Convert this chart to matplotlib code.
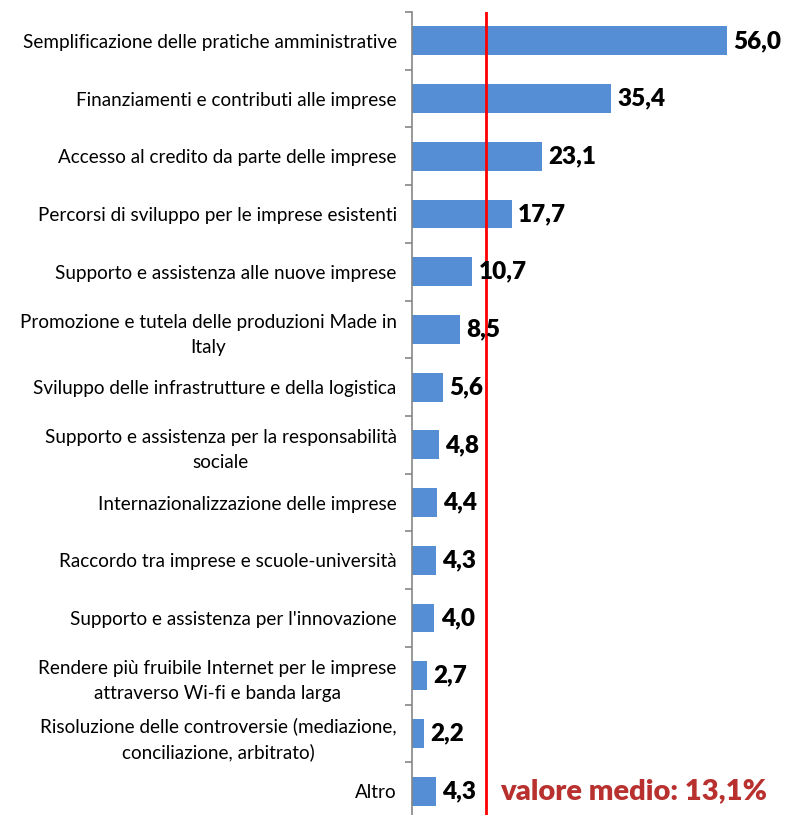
import matplotlib
matplotlib.use("Agg")
import matplotlib.pyplot as plt
import numpy as np

categories = [
    "Semplificazione delle pratiche amministrative",
    "Finanziamenti e contributi alle imprese",
    "Accesso al credito da parte delle imprese",
    "Percorsi di sviluppo per le imprese esistenti",
    "Supporto e assistenza alle nuove imprese",
    "Promozione e tutela delle produzioni Made in\nItaly",
    "Sviluppo delle infrastrutture e della logistica",
    "Supporto e assistenza per la responsabilità\nsociale",
    "Internazionalizzazione delle imprese",
    "Raccordo tra imprese e scuole-università",
    "Supporto e assistenza per l'innovazione",
    "Rendere più fruibile Internet per le imprese\nattraverso Wi-fi e banda larga",
    "Risoluzione delle controversie (mediazione,\nconciliazione, arbitrato)",
    "Altro",
]
values = [56.0, 35.4, 23.1, 17.7, 10.7, 8.5, 5.6, 4.8, 4.4, 4.3, 4.0, 2.7, 2.2, 4.3]
mean_value = 13.1

W, H = 787, 815
fig = plt.figure(figsize=(W / 100, H / 100), dpi=100)
ax = fig.add_axes([412 / W, -5 / H, 1 - 412 / W, (815 - 12 + 5) / H])

n = len(categories)
y = np.arange(n)
ax.barh(y, values, height=0.5, color="#558ED5", zorder=2)
ax.set_ylim(n - 0.5, -0.5)
ax.set_xlim(0, 66.7)

# value labels
for yi, v in zip(y, values):
    ax.text(v + 1.1, yi, f"{v:.1f}".replace(".", ","), va="center", ha="left",
            fontsize=17.5, fontweight="heavy", family="Lato", color="black", zorder=4)

# average line
ax.axvline(mean_value, color="#FF0000", lw=2, zorder=3)
ax.text(15.6, 13.0, f"valore medio: {mean_value:.1f}%".replace(".", ","),
        va="center", ha="left", fontsize=21, fontweight="heavy",
        family="Lato", color="#B8312F")

# axes styling
for s in ["top", "right", "bottom"]:
    ax.spines[s].set_visible(False)
ax.spines["left"].set_color("#868686")
ax.spines["left"].set_linewidth(1.2)
ax.set_xticks([])
ax.set_yticks(y)
ax.set_yticklabels(categories, family="Lato", fontsize=13.6,
                   multialignment="center", linespacing=1.55)
ax.tick_params(axis="y", which="major", length=0, pad=11)
ax.set_yticks(np.arange(-0.5, n, 1.0), minor=True)
ax.tick_params(axis="y", which="minor", length=5, color="#868686", width=1.2)

fig.savefig("out.png", dpi=100)
